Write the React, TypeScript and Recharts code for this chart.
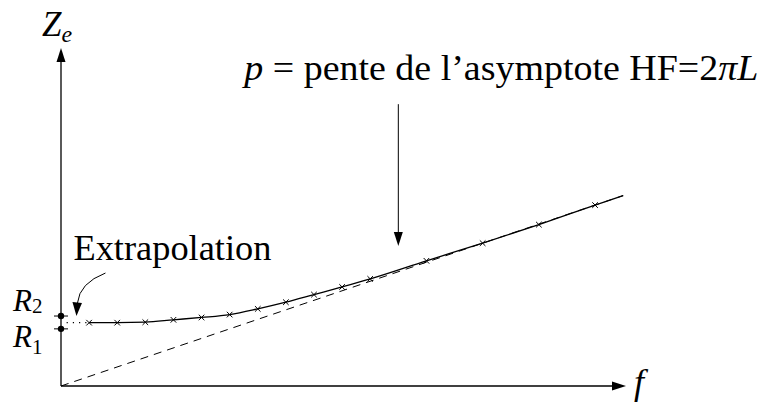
import React from 'react';
import { ComposedChart, Line, Scatter, XAxis, YAxis, ReferenceLine, ReferenceDot } from 'recharts';

// measured impedance |Ze| against frequency (arbitrary units)
const freq = [1, 2, 3, 4, 5, 6, 7, 8, 9, 10, 11, 13, 15, 17, 19];
const impedance = [6.65, 6.65, 6.7, 6.95, 7.2, 7.5, 8.1, 8.8, 9.6, 10.4, 11.25, 13.15, 15.0, 16.95, 19.0];

// where the fitted curve stops, past the last measure
const curveEndF = 20;
const curveEndZ = 20;

// resistances read on the Ze axis
const R1 = 6.0;
const R2 = 7.35;

// HF asymptote: Ze = 2πL · f
const slope = 1;
const asymptoteEndF = 20;

const X_MAX = 20.1;
const Y_MAX = 35.5;

const measures = freq.map((f, i) => ({ f, z: impedance[i] }));
const curve = [...measures, { f: curveEndF, z: curveEndZ }];

const FONT = '"Liberation Serif", "DejaVu Serif", serif';
const INK = '#000';

const Cross = (props: any) => {
  const { cx, cy } = props;
  const s = 2.8;
  return (
    <g stroke={INK} strokeWidth={1}>
      <line x1={cx - s} y1={cy - s} x2={cx + s} y2={cy + s} />
      <line x1={cx - s} y1={cy + s} x2={cx + s} y2={cy - s} />
    </g>
  );
};

const ArrowUp = ({ cx, cy }: any) => (
  <polygon points={`${cx},${cy} ${cx - 4.5},${cy + 14} ${cx + 4.5},${cy + 14}`} fill={INK} />
);
const ArrowRight = ({ cx, cy }: any) => (
  <polygon points={`${cx},${cy} ${cx - 14},${cy - 4.5} ${cx - 14},${cy + 4.5}`} fill={INK} />
);
const ArrowDown = ({ cx, cy }: any) => (
  <polygon points={`${cx},${cy} ${cx - 4.5},${cy - 14} ${cx + 4.5},${cy - 14}`} fill={INK} />
);

// dot on the axis with its small tick, plus the R label
const AxisMark = (sub: string) => (props: any) => {
  const { cx, cy } = props;
  const upper = sub === '2';
  return (
    <g>
      <line x1={cx - 7} y1={cy} x2={cx + 7} y2={cy} stroke={INK} strokeWidth={1} />
      <circle cx={cx} cy={cy} r={3.2} fill={INK} />
      <text x={cx - 48} y={upper ? cy - 5 : cy + 18} fontFamily={FONT} fontSize={31} fill={INK}>
        <tspan fontStyle="italic">R</tspan>
        <tspan fontSize={21} dy={upper ? 2 : 7}>{sub}</tspan>
      </text>
    </g>
  );
};

// curved arrow pointing at the extrapolated part
const Extrapolation = (props: any) => {
  const { cx, cy } = props;
  return (
    <g>
      <path
        d={`M ${cx + 29} ${cy - 43} Q ${cx + 3} ${cy - 33} ${cx + 1} ${cy - 13}`}
        fill="none"
        stroke={INK}
        strokeWidth={1}
      />
      <polygon points={`${cx},${cy} ${cx - 4},${cy - 14} ${cx + 5.5},${cy - 13}`} fill={INK} />
      <text
        x={cx - 3}
        y={cy - 56}
        fontFamily={FONT}
        fontSize={35}
        fill={INK}
        textLength={198}
        lengthAdjust="spacingAndGlyphs"
      >
        Extrapolation
      </text>
    </g>
  );
};

const SlopeNote = (props: any) => {
  const { cx, cy } = props;
  return (
    <text
      x={cx - 154}
      y={cy}
      fontFamily={FONT}
      fontSize={35}
      fill={INK}
      textLength={514}
      lengthAdjust="spacingAndGlyphs"
    >
      <tspan fontStyle="italic">p</tspan> = pente de l’asymptote HF=2<tspan fontStyle="italic">πL</tspan>
    </text>
  );
};

const AxisName = (props: any) => {
  const { cx, cy, name } = props;
  if (name === 'Z') {
    return (
      <text x={cx - 19} y={cy - 12} fontFamily={FONT} fontSize={35} fill={INK} fontStyle="italic">
        Z<tspan fontSize={24} dy={6}>e</tspan>
      </text>
    );
  }
  return (
    <text x={cx + 8} y={cy + 8} fontFamily={FONT} fontSize={36} fill={INK} fontStyle="italic">
      f
    </text>
  );
};

export default function App() {
  return (
    <div style={{ position: 'absolute', left: 0, top: 0, background: '#fff' }}>
      <ComposedChart width={764} height={404} margin={{ top: 48, right: 138, bottom: 18, left: 61 }}>
        <XAxis type="number" dataKey="f" domain={[0, X_MAX]} hide allowDataOverflow />
        <YAxis type="number" dataKey="z" domain={[0, Y_MAX]} hide allowDataOverflow />

        {/* axes with arrow heads */}
        <ReferenceLine segment={[{ x: 0, y: 0 }, { x: X_MAX - 0.3, y: 0 }]} stroke={INK} strokeWidth={1.3} ifOverflow="visible" />
        <ReferenceLine segment={[{ x: 0, y: 0 }, { x: 0, y: Y_MAX - 1 }]} stroke={INK} strokeWidth={1.3} ifOverflow="visible" />
        <ReferenceDot x={X_MAX} y={0} shape={ArrowRight} ifOverflow="visible" />
        <ReferenceDot x={0} y={Y_MAX} shape={ArrowUp} ifOverflow="visible" />
        <ReferenceDot x={X_MAX} y={0} shape={(p: any) => <AxisName {...p} name="f" />} ifOverflow="visible" />
        <ReferenceDot x={0} y={Y_MAX} shape={(p: any) => <AxisName {...p} name="Z" />} ifOverflow="visible" />

        {/* HF asymptote */}
        <ReferenceLine
          segment={[{ x: 0, y: 0 }, { x: asymptoteEndF, y: asymptoteEndF * slope }]}
          stroke={INK}
          strokeWidth={1}
          strokeDasharray="8 6"
          ifOverflow="visible"
        />

        {/* extrapolation down to the axis */}
        <ReferenceLine
          segment={[{ x: 0.2, y: impedance[0] }, { x: freq[0], y: impedance[0] }]}
          stroke={INK}
          strokeWidth={1.2}
          strokeDasharray="1.2 5"
          ifOverflow="visible"
        />

        <Line
          data={curve}
          dataKey="z"
          type="monotone"
          stroke={INK}
          strokeWidth={1.3}
          dot={false}
          activeDot={false}
          isAnimationActive={false}
        />
        <Scatter data={measures} dataKey="z" shape={Cross} isAnimationActive={false} />

        <ReferenceDot x={0} y={R2} shape={AxisMark('2')} ifOverflow="visible" />
        <ReferenceDot x={0} y={R1} shape={AxisMark('1')} ifOverflow="visible" />

        <ReferenceDot x={0.55} y={R2} shape={Extrapolation} ifOverflow="visible" />

        {/* slope annotation */}
        <ReferenceLine segment={[{ x: 12, y: 29.6 }, { x: 12, y: 16 }]} stroke={INK} strokeWidth={1} ifOverflow="visible" />
        <ReferenceDot x={12} y={14.7} shape={ArrowDown} ifOverflow="visible" />
        <ReferenceDot x={12} y={32.1} shape={SlopeNote} ifOverflow="visible" />
      </ComposedChart>
    </div>
  );
}
